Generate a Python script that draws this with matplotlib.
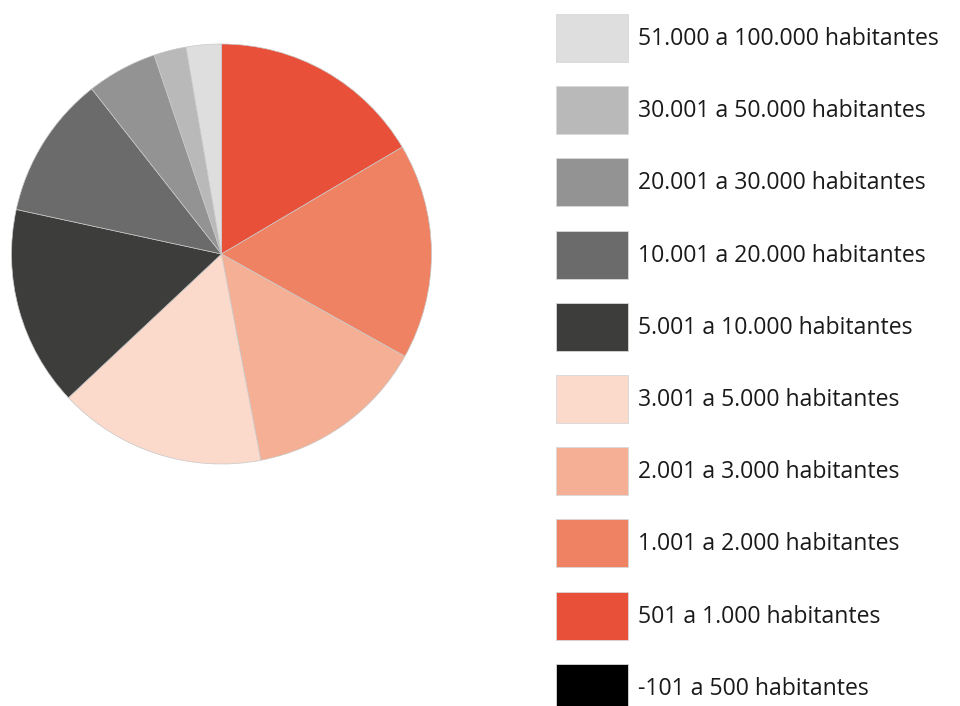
import matplotlib.pyplot as plt
from matplotlib.patches import Rectangle

# classes in legend order (top to bottom)
labels = [
    "51.000 a 100.000 habitantes",
    "30.001 a 50.000 habitantes",
    "20.001 a 30.000 habitantes",
    "10.001 a 20.000 habitantes",
    "5.001 a 10.000 habitantes",
    "3.001 a 5.000 habitantes",
    "2.001 a 3.000 habitantes",
    "1.001 a 2.000 habitantes",
    "501 a 1.000 habitantes",
    "-101 a 500 habitantes",
]
colors = [
    "#dedede", "#b9b9b9", "#939393", "#6b6b6b", "#3d3d3c",
    "#fbd9cb", "#f4af95", "#ef8263", "#e8503a", "#000000",
]
# share of municipalities (%), same order as labels
shares = [2.7, 2.5, 5.4, 11.0, 15.4, 16.0, 13.9, 16.6, 16.5, 0.0]

plt.rcParams['font.family'] = ['Open Sans', 'DejaVu Sans']

fig = plt.figure(figsize=(9.6, 7.06), dpi=100)
W, H = 960, 706

# pie: starts at top, goes clockwise from "501 a 1.000"
cx, cy, r = 221.5, 254, 210
ax = fig.add_axes([(cx - r) / W, (H - cy - r) / H, 2 * r / W, 2 * r / H])
order = list(range(8, -1, -1))
vals = [shares[i] for i in order]
cols = [colors[i] for i in order]
ax.pie(vals, colors=cols, startangle=90, counterclock=False, radius=1,
       wedgeprops=dict(edgecolor="#c8c8c8", linewidth=0.5))
ax.set_xlim(-1, 1)
ax.set_ylim(-1, 1)
ax.set_aspect("equal")
ax.axis("off")

# legend drawn in pixel coordinates
lax = fig.add_axes([0, 0, 1, 1])
lax.set_xlim(0, W)
lax.set_ylim(H, 0)
lax.axis("off")
y0, step = 14, 72.2
for i, (lab, c) in enumerate(zip(labels, colors)):
    y = y0 + i * step
    lax.add_patch(Rectangle((556, y), 72, 48, facecolor=c,
                            edgecolor="#d8d8d8", linewidth=0.6))
    lax.text(638, y + 25, lab, fontsize=16.6, color="#1a1a1a",
             va="center", ha="left")

fig.savefig("out.png", dpi=100)
